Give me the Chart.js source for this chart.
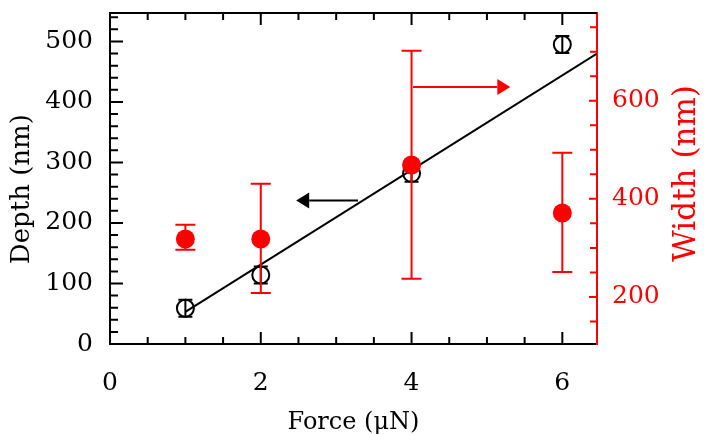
<!DOCTYPE html>
<html lang="en">
<head>
  <meta charset="UTF-8" />
  <title>Depth and width vs force</title>
  <script src="https://cdn.jsdelivr.net/npm/chart.js"></script>
  <style>
    body { margin: 0; background: #fff; }
  </style>
</head>
<body>
  <canvas id="chart" width="706" height="435"></canvas>

  <script>
    // values
    const force = [1, 2, 4, 6];
    const depth = [59, 114, 282, 495];
    const depthErr = [14, 14, 14, 14];
    const width = [318, 318, 469, 371];
    const widthLow = [296, 208, 237, 251];
    const widthHigh = [347, 431, 702, 494];

    const fitForce = [1, 6.46];
    const fitDepth = [53, 480];

    const forceTicks = [0, 2, 4, 6];
    const depthTicks = [0, 100, 200, 300, 400, 500];
    const widthTicks = [200, 400, 600];

    // arrows: [from, to] in force units, at a given axis value
    const depthArrowX = [3.29, 2.47];
    const depthArrowY = 237;
    const widthArrowX = [4.02, 5.31];
    const widthArrowY = 628;

    const RED = 'rgb(255,0,0)';
    const FONT = 'DejaVu Serif';

    const fixTicks = list => s => { s.ticks = list.map(v => ({ value: v })); };
    const noPad = s => { s.paddingTop = 0; s.paddingBottom = 0; s.paddingLeft = 0; s.paddingRight = 0; };

    const arrow = (ctx, x0, x1, y, color, len, half) => {
      const dir = Math.sign(x1 - x0);
      ctx.strokeStyle = color;
      ctx.fillStyle = color;
      ctx.lineWidth = 2;
      ctx.beginPath();
      ctx.moveTo(x0, y);
      ctx.lineTo(x1 - dir * len, y);
      ctx.stroke();
      ctx.beginPath();
      ctx.moveTo(x1, y);
      ctx.lineTo(x1 - dir * len, y - half);
      ctx.lineTo(x1 - dir * len, y + half);
      ctx.closePath();
      ctx.fill();
    };

    const extras = {
      id: 'extras',
      afterDatasetDraw(chart, args) {
        const ctx = chart.ctx;
        const x = chart.scales.x;
        const ds = chart.data.datasets[args.index];
        if (!ds.lo) return;
        const y = chart.scales[ds.yAxisID];
        ctx.save();
        ctx.strokeStyle = ds.borderColor;
        ctx.lineWidth = 2;
        ds.data.forEach((p, i) => {
          const px = x.getPixelForValue(p.x);
          const top = y.getPixelForValue(ds.hi[i]);
          const bot = y.getPixelForValue(ds.lo[i]);
          ctx.beginPath();
          ctx.moveTo(px, top); ctx.lineTo(px, bot);
          ctx.moveTo(px - ds.cap, top); ctx.lineTo(px + ds.cap, top);
          ctx.moveTo(px - ds.cap, bot); ctx.lineTo(px + ds.cap, bot);
          ctx.stroke();
        });
        ctx.restore();
      },
      afterDraw(chart) {
        const ctx = chart.ctx;
        const { left, right, top, bottom } = chart.chartArea;
        const x = chart.scales.x, y = chart.scales.y, y1 = chart.scales.y1;
        ctx.save();
        ctx.lineWidth = 2;
        ctx.strokeStyle = '#000';
        // top frame line
        ctx.beginPath();
        ctx.moveTo(left - 1, top);
        ctx.lineTo(right, top);
        ctx.stroke();
        // inward ticks on bottom and top
        ctx.beginPath();
        for (let v = 0; v <= x.max; v += 0.5) {
          const px = x.getPixelForValue(v);
          const len = v % 2 === 0 ? 12 : 7;
          ctx.moveTo(px, bottom); ctx.lineTo(px, bottom - len);
          ctx.moveTo(px, top); ctx.lineTo(px, top + len);
        }
        // left ticks
        for (let v = 0; v <= y.max; v += 20) {
          const py = y.getPixelForValue(v);
          const len = v % 100 === 0 ? 13 : 8;
          ctx.moveTo(left, py); ctx.lineTo(left + len, py);
        }
        ctx.stroke();
        // right ticks (red)
        ctx.strokeStyle = RED;
        ctx.beginPath();
        for (let v = 150; v <= y1.max; v += 50) {
          const py = y1.getPixelForValue(v);
          const len = v % 200 === 0 ? 8 : 7;
          ctx.moveTo(right, py); ctx.lineTo(right - len, py);
        }
        ctx.stroke();
        // arrows
        arrow(ctx, x.getPixelForValue(depthArrowX[0]), x.getPixelForValue(depthArrowX[1]),
          y.getPixelForValue(depthArrowY), '#000', 13, 8);
        arrow(ctx, x.getPixelForValue(widthArrowX[0]), x.getPixelForValue(widthArrowX[1]),
          y1.getPixelForValue(widthArrowY), RED, 13, 8);
        // right axis title, reading bottom to top
        ctx.translate(687, (top + bottom) / 2 - 5);
        ctx.rotate(-Math.PI / 2);
        ctx.fillStyle = RED;
        ctx.font = `31px "${FONT}"`;
        ctx.textAlign = 'center';
        ctx.textBaseline = 'middle';
        ctx.fillText('Width (nm)', 0, 0);
        ctx.restore();
      }
    };

    new Chart(document.getElementById('chart'), {
      type: 'scatter',
      data: {
        datasets: [
          {
            type: 'line',
            data: fitForce.map((f, i) => ({ x: f, y: fitDepth[i] })),
            borderColor: '#000',
            borderWidth: 2,
            pointRadius: 0,
            yAxisID: 'y',
            order: 3
          },
          {
            data: force.map((f, i) => ({ x: f, y: depth[i] })),
            lo: depth.map((d, i) => d - depthErr[i]),
            hi: depth.map((d, i) => d + depthErr[i]),
            cap: 7,
            borderColor: '#000',
            backgroundColor: 'rgba(0,0,0,0)',
            pointRadius: 8.5,
            borderWidth: 2,
            yAxisID: 'y',
            order: 2
          },
          {
            data: force.map((f, i) => ({ x: f, y: width[i] })),
            lo: widthLow,
            hi: widthHigh,
            cap: 10,
            borderColor: RED,
            backgroundColor: RED,
            pointRadius: 9.5,
            borderWidth: 0,
            yAxisID: 'y1',
            order: 1
          }
        ]
      },
      options: {
        responsive: false,
        animation: false,
        layout: { padding: { top: 13, left: 0, right: 0, bottom: 0 } },
        plugins: { legend: { display: false }, tooltip: { enabled: false } },
        scales: {
          x: {
            type: 'linear',
            min: 0,
            max: 6.46,
            afterBuildTicks: fixTicks(forceTicks),
            afterFit: s => { s.height = 91; noPad(s); },
            grid: { display: false },
            border: { display: true, color: '#000', width: 2 },
            ticks: { color: '#000', padding: 19, font: { family: FONT, size: 25, lineHeight: 1 } },
            title: {
              display: true, text: 'Force (\u03bcN)', color: '#000',
              padding: { top: 0, bottom: 0 },
              font: { family: FONT, size: 24, lineHeight: 1 }
            }
          },
          y: {
            position: 'left',
            min: 0,
            max: 547,
            afterBuildTicks: fixTicks(depthTicks),
            afterFit: s => { s.width = 110; noPad(s); },
            grid: { display: false },
            border: { display: true, color: '#000', width: 2 },
            ticks: { color: '#000', padding: 9, font: { family: FONT, size: 25 } },
            title: {
              display: true, text: 'Depth (nm)\u2002 ', color: '#000',
              padding: { top: 9, bottom: 0 },
              font: { family: FONT, size: 26, lineHeight: 1 }
            }
          },
          y1: {
            position: 'right',
            min: 104,
            max: 779,
            afterBuildTicks: fixTicks(widthTicks),
            afterFit: s => { s.width = 109; noPad(s); },
            grid: { display: false },
            border: { display: true, color: RED, width: 2 },
            ticks: { color: RED, padding: 7, font: { family: FONT, size: 25 } }
          }
        }
      },
      plugins: [extras]
    });
  </script>
</body>
</html>
